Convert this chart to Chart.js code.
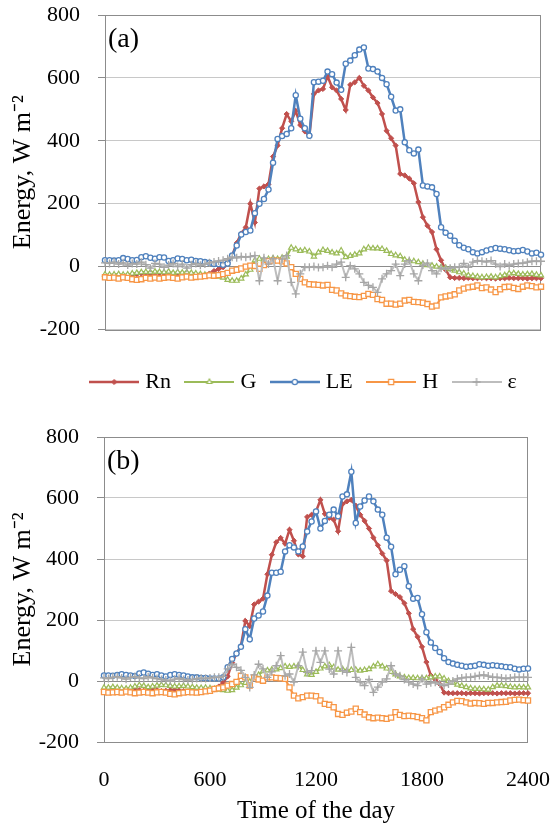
<!DOCTYPE html>
<html>
<head>
<meta charset="utf-8">
<script src="https://cdn.jsdelivr.net/npm/chart.js@4.4.1/dist/chart.umd.min.js"></script>
<style>
  html, body { margin: 0; padding: 0; background: #fff; overflow: hidden; }
  #wrapA { position: absolute; left: 0; top: 0; width: 551px; height: 388px; overflow: hidden; }
  #wrapB { position: absolute; left: 0; top: 400px; width: 551px; height: 424px; }
</style>
</head>
<body>
<div id="wrapA"><canvas id="chartA" width="611" height="403"></canvas></div>
<div id="wrapB"><canvas id="chartB" width="551" height="424"></canvas></div>
<script>
// time of day (hhmm scale), one reading every quarter hour
const times = [
  0, 25, 50, 75, 100, 125, 150, 175,
  200, 225, 250, 275, 300, 325, 350, 375,
  400, 425, 450, 475, 500, 525, 550, 575,
  600, 625, 650, 675, 700, 725, 750, 775,
  800, 825, 850, 875, 900, 925, 950, 975,
  1000, 1025, 1050, 1075, 1100, 1125, 1150, 1175,
  1200, 1225, 1250, 1275, 1300, 1325, 1350, 1375,
  1400, 1425, 1450, 1475, 1500, 1525, 1550, 1575,
  1600, 1625, 1650, 1675, 1700, 1725, 1750, 1775,
  1800, 1825, 1850, 1875, 1900, 1925, 1950, 1975,
  2000, 2025, 2050, 2075, 2100, 2125, 2150, 2175,
  2200, 2225, 2250, 2275, 2300, 2325, 2350, 2375,
  2400
]

// (a)
const rnA = [
  -30, -30, -32, -30, -28, -27, -25, -24,
  -22, -20, -24, -28, -30, -29, -27, -28,
  -30, -31, -30, -28, -27, -28, -26, -22,
  -14, -8, -2, 12, 35, 75, 105, 125,
  200, 140, 248, 255, 262, 350, 385, 440,
  485, 462, 495, 450, 430, 416, 549, 560,
  565, 605, 570, 560, 533, 498, 578, 586,
  600, 575, 560, 538, 520, 485, 432, 408,
  385, 295, 290, 280, 265, 205, 157, 130,
  110, 55, 20, -10, -34, -36, -36, -37,
  -36, -37, -37, -36, -37, -37, -38, -37,
  -37, -36, -37, -37, -37, -38, -37, -37,
  -37
]
const gA = [
  -25, -26, -25, -24, -26, -25, -22, -20,
  -18, -17, -18, -16, -17, -18, -16, -20,
  -18, -19, -18, -20, -22, -24, -26, -28,
  -30, -32, -35, -42, -45, -45, -38, -25,
  -10, 20, 25, 22, 24, 26, 24, 28,
  32, 60, 55, 50, 52, 48, 32, 45,
  53, 50, 45, 42, 51, 30, 34, 38,
  42, 55, 60, 58, 58, 56, 50, 40,
  36, 33, 22, 18, 17, 14, 9, 5,
  3, 0, -2, -4, -8, -13, -18, -22,
  -28, -30, -32, -34, -33, -32, -34, -30,
  -27, -22, -21, -23, -25, -24, -23, -26,
  -28
]
const leA = [
  20, 20, 19, 20, 27, 24, 20, 21,
  30, 33, 28, 25, 30, 29, 18, 20,
  26, 24, 20, 22, 18, 17, 15, 12,
  8, 8, 6, 10, 35, 67, 102, 110,
  115, 170, 200, 215, 245, 330, 406, 415,
  422, 440, 545, 470, 440, 416, 586, 588,
  591, 620, 612, 585, 562, 645, 655, 672,
  690, 697, 630, 628, 620, 600, 580, 540,
  496, 500, 395, 370, 360, 372, 258, 255,
  252, 231, 125, 108, 98, 82, 68, 60,
  55, 46, 42, 46, 51, 55, 59, 57,
  55, 52, 49, 50, 53, 48, 42, 44,
  38
]
const hA = [
  -34, -36, -35, -38, -34, -36, -40, -42,
  -40, -36, -38, -35, -38, -36, -34, -36,
  -38, -34, -32, -35, -33, -32, -30, -28,
  -29, -27, -24, -20, -13, -10, -6, 0,
  3, 2, -7, 5, 17, 19, 19, 17,
  10, -2, -23, -39, -50, -56, -57, -58,
  -60, -58, -74, -76, -85, -92, -94, -96,
  -97, -93, -87, -90, -103, -106, -118, -118,
  -121, -118, -108, -106, -112, -113, -115, -119,
  -127, -124, -98, -95, -92, -88, -76, -70,
  -66, -64, -60, -68, -66, -73, -81, -72,
  -65, -64, -68, -71, -64, -60, -62, -66,
  -64
]
const epsA = [
  12, 10, 14, 8, 12, 5, 10, 8,
  14, 6, -5, 10, 8, -2, 5, 10,
  0, 8, -5, 6, 10, 4, 8, 12,
  15, 18, 20, 25, 30, 28, 32, 30,
  32, 35, -45, 28, 8, 25, -45, 24,
  35, -50, -87, -23, -2, -2, 0, -3,
  -2, 3, -2, 8, 14, -34, 3, -7,
  -23, -50, -60, -66, -82, -39, -23, -13,
  8, -29, 8, 19, -23, -45, 5, 11,
  -13, -23, -5, -7, -5, -2, -2, 10,
  -2, 14, 19, 17, 15, 19, 8, 0,
  8, 3, 8, 10, 11, 14, 17, 17,
  17
]

// (b)
const rnB = [
  -30, -32, -33, -31, -30, -30, -28, -27,
  -30, -32, -30, -28, -30, -33, -32, -30,
  -29, -31, -33, -34, -32, -33, -34, -32,
  -30, -27, -18, -5, 15, 60, 90, 115,
  197, 180, 251, 260, 270, 350, 414, 455,
  469, 450, 496, 460, 415, 409, 538, 545,
  556, 594, 548, 535, 529, 491, 580, 589,
  594, 575, 545, 525, 500, 470, 445, 418,
  395, 295, 285, 275, 255, 222, 170, 145,
  112, 62, 18, 5, -10, -38, -40, -40,
  -40, -40, -41, -40, -40, -41, -40, -40,
  -40, -41, -40, -40, -40, -41, -40, -40,
  -40
]
const gB = [
  -22, -22, -20, -22, -24, -25, -22, -18,
  -14, -16, -20, -18, -15, -13, -14, -16,
  -18, -17, -16, -18, -20, -22, -23, -22,
  -24, -26, -28, -30, -32, -30, -22, -14,
  -6, -2, 12, 20, 32, 35, 37, 38,
  42, 48, 46, 48, 50, 36, 22, 20,
  30, 41, 48, 52, 45, 37, 39, 34,
  36, 37, 34, 36, 39, 48, 55, 48,
  41, 30, 22, 15, 12, 10, 10, 9,
  9, 9, 12, 15, 15, 8, 0, -5,
  -12, -16, -20, -24, -26, -26, -27, -28,
  -20, -15, -15, -17, -19, -21, -20, -21,
  -21
]
const leB = [
  18, 18, 17, 20, 22, 20, 18, 16,
  25, 28, 24, 20, 22, 18, 15, 20,
  22, 20, 18, 15, 12, 12, 10, 10,
  8, 8, 8, 12, 45, 72, 90, 112,
  170, 137, 205, 215, 228, 280, 355, 355,
  358, 425, 445, 438, 425, 441, 490, 523,
  556, 500, 525, 545, 562, 540, 605, 612,
  686, 518, 572, 592, 605, 589, 562, 545,
  470, 440, 350, 365, 376, 311, 270, 272,
  219, 160, 126, 108, 95, 75, 62, 57,
  53, 50, 47, 48, 50, 55, 53, 50,
  52, 50, 48, 46, 45, 40, 38, 40,
  41
]
const hB = [
  -36, -38, -37, -36, -38, -35, -37, -40,
  -38, -36, -38, -40, -37, -36, -38, -42,
  -44, -40, -38, -36, -37, -38, -36, -34,
  -32, -26, -24, -21, -15, -10, -3, 17,
  12, -15, 12, 5, 1, 12, 12, 10,
  9, 7, -21, -48, -57, -53, -48, -48,
  -50, -64, -75, -78, -86, -108, -111, -104,
  -100, -91, -102, -110, -119, -122, -120, -122,
  -124, -120, -102, -111, -115, -114, -115, -118,
  -122, -129, -102, -97, -93, -86, -78, -70,
  -65, -66, -70, -74, -72, -73, -75, -72,
  -72, -70, -69, -68, -64, -62, -61, -63,
  -64
]
const epsB = [
  10, 8, 12, 14, 10, 6, 12, 14,
  10, 8, 14, 10, 8, 5, 3, 0,
  6, 9, 5, 3, 5, 8, 9, 8,
  10, 12, 12, 15, 40, 55, 45, 35,
  12, -21, 20, 55, 40, 12, 30, 50,
  83, 17, 23, -4, 50, 95, 28, 34,
  99, 61, 99, 39, 23, 99, 34, 28,
  110, 12, -4, -15, 5, -37, -20, -4,
  7, 50, 23, 17, 5, -4, -10, -15,
  7, -10, -6, -4, -10, -15, -10, 0,
  7, 10, 12, 12, 15, 18, 20, 16,
  12, 12, 10, 8, 10, 12, 12, 12,
  12
]

const seriesNames = ['Rn', 'G', 'LE', 'H', 'ε']

// line + marker look for each flux, same order as seriesNames
const looks = [
  { color: '#C0504D', line: 2.5, marker: 'rectRot', radius: 2.6, fill: '#C0504D', edge: '#C0504D', edgeWidth: 1, order: 5 },
  { color: '#9BBB59', line: 2.2, marker: 'triangle', radius: 3, fill: '#ffffff', edge: '#9BBB59', edgeWidth: 1.2, order: 4 },
  { color: '#4F81BD', line: 2.5, marker: 'circle', radius: 2.6, fill: '#ffffff', edge: '#4F81BD', edgeWidth: 1.3, order: 3 },
  { color: '#F79646', line: 2.2, marker: 'rect', radius: 3.6, fill: '#ffffff', edge: '#F79646', edgeWidth: 1.3, order: 2 },
  { color: '#BDBDBD', line: 2, marker: 'cross', radius: 4, fill: '#A6A6A6', edge: '#A6A6A6', edgeWidth: 1.3, order: 1 }
]

Chart.defaults.font.family = '"Liberation Serif", "Times New Roman", serif'
Chart.defaults.color = '#000'

const toPoints = vals => times.map((t, i) => ({ x: t, y: vals[i] }))

const makeDatasets = (groups) => groups.map((vals, i) => {
  const s = looks[i]
  return {
    label: seriesNames[i],
    data: toPoints(vals),
    borderColor: s.color,
    borderWidth: s.line,
    pointStyle: s.marker,
    pointRadius: s.radius,
    pointHoverRadius: s.radius,
    pointBackgroundColor: s.fill,
    pointBorderColor: s.edge,
    pointBorderWidth: s.edgeWidth,
    order: s.order,
    clip: false
  }
})

// small canvas used as the legend symbol: a stroke with the marker in the middle
const legendIcon = (s) => {
  const c = document.createElement('canvas')
  c.width = 50
  c.height = 14
  const g = c.getContext('2d')
  g.strokeStyle = s.color
  g.lineWidth = s.line
  g.beginPath()
  g.moveTo(0, 7)
  g.lineTo(50, 7)
  g.stroke()
  g.fillStyle = s.fill
  g.strokeStyle = s.edge
  g.lineWidth = s.edgeWidth
  Chart.helpers.drawPoint(g, { pointStyle: s.marker, radius: s.radius, borderWidth: s.edgeWidth, rotation: 0 }, 25, 7)
  return c
}
const icons = looks.map(legendIcon)

// grey frame round the plot area and the panel letter
const frame = {
  id: 'frame',
  beforeDatasetsDraw(chart, args, opts) {
    const { ctx, chartArea: a } = chart
    ctx.save()
    ctx.strokeStyle = '#8c8c8c'
    ctx.lineWidth = 1
    ctx.strokeRect(Math.round(a.left) + 0.5, Math.round(a.top) + 0.5, Math.round(a.width) - 1, Math.round(a.height))
    ctx.font = '28px "Liberation Serif"'
    ctx.fillStyle = '#000'
    ctx.textBaseline = 'middle'
    ctx.textAlign = 'left'
    ctx.fillText(opts.text, a.left + 3, a.top + 25)
    ctx.restore()
  }
}

// no extra room for the end labels, the plot box is placed by the layout padding
const noEdgePadding = (scale) => {
  scale.paddingTop = 0
  scale.paddingBottom = 0
  scale.paddingLeft = 0
  scale.paddingRight = 0
}

const energyAxis = (width) => ({
  type: 'linear',
  min: -200,
  max: 800,
  afterFit: (scale) => {
    scale.width = width
    noEdgePadding(scale)
  },
  ticks: { stepSize: 200, padding: 18, color: '#000', font: { size: 22 } },
  grid: {
    color: c => (c.tick && c.tick.value === 0) ? '#8c8c8c' : '#c8c8c8',
    tickColor: '#8c8c8c',
    tickLength: 7,
    lineWidth: 1
  },
  border: { display: false },
  title: {
    display: true,
    text: 'Energy, W m⁻²',
    color: '#000',
    font: { size: 26 },
    padding: { top: 8, bottom: 0 }
  }
})

const chartA = new Chart(document.getElementById('chartA'), {
  type: 'line',
  data: { datasets: makeDatasets([rnA, gA, leA, hA, epsA]) },
  options: {
    responsive: false,
    devicePixelRatio: 1,
    animation: false,
    events: [],
    layout: { padding: { top: 15, left: 0, right: 0, bottom: 0 } },
    scales: {
      x: {
        type: 'linear',
        min: 0,
        max: 2400,
        afterFit: (scale) => {
          scale.height = 23
          noEdgePadding(scale)
        },
        ticks: { display: false },
        grid: { display: false, drawTicks: false },
        border: { display: false }
      },
      y: energyAxis(105),
      spare: {
        type: 'linear',
        position: 'right',
        display: true,
        afterFit: (scale) => {
          scale.width = 70
          noEdgePadding(scale)
        },
        ticks: { display: false },
        grid: { display: false, drawTicks: false },
        border: { display: false }
      }
    },
    plugins: {
      frame: { text: '(a)' },
      tooltip: { enabled: false },
      legend: {
        position: 'bottom',
        align: 'center',
        labels: {
          usePointStyle: true,
          pointStyleWidth: 40,
          padding: 18.5,
          color: '#000',
          font: { size: 22 },
          generateLabels: (chart) => chart.data.datasets.map((ds, i) => ({
            text: ds.label,
            pointStyle: icons[i],
            fillStyle: 'transparent',
            strokeStyle: 'transparent',
            lineWidth: 0,
            hidden: false,
            datasetIndex: i,
            fontColor: '#000'
          }))
        }
      }
    }
  },
  plugins: [frame]
})

const chartB = new Chart(document.getElementById('chartB'), {
  type: 'line',
  data: { datasets: makeDatasets([rnB, gB, leB, hB, epsB]) },
  options: {
    responsive: false,
    devicePixelRatio: 1,
    animation: false,
    events: [],
    layout: { padding: { top: 37, left: 0, right: 23, bottom: 0 } },
    scales: {
      x: {
        type: 'linear',
        min: 0,
        max: 2400,
        afterFit: (scale) => {
          scale.height = 82
          noEdgePadding(scale)
        },
        ticks: {
          stepSize: 600,
          padding: 25,
          color: '#000',
          font: { size: 22 },
          maxRotation: 0,
          callback: v => String(v)
        },
        grid: { display: false, drawTicks: false },
        border: { display: false },
        title: {
          display: true,
          text: 'Time of the day',
          color: '#000',
          font: { size: 25 },
          padding: { top: 0, bottom: -2 }
        }
      },
      y: energyAxis(104)
    },
    plugins: {
      frame: { text: '(b)' },
      tooltip: { enabled: false },
      legend: { display: false }
    }
  },
  plugins: [frame]
})
</script>
</body>
</html>
